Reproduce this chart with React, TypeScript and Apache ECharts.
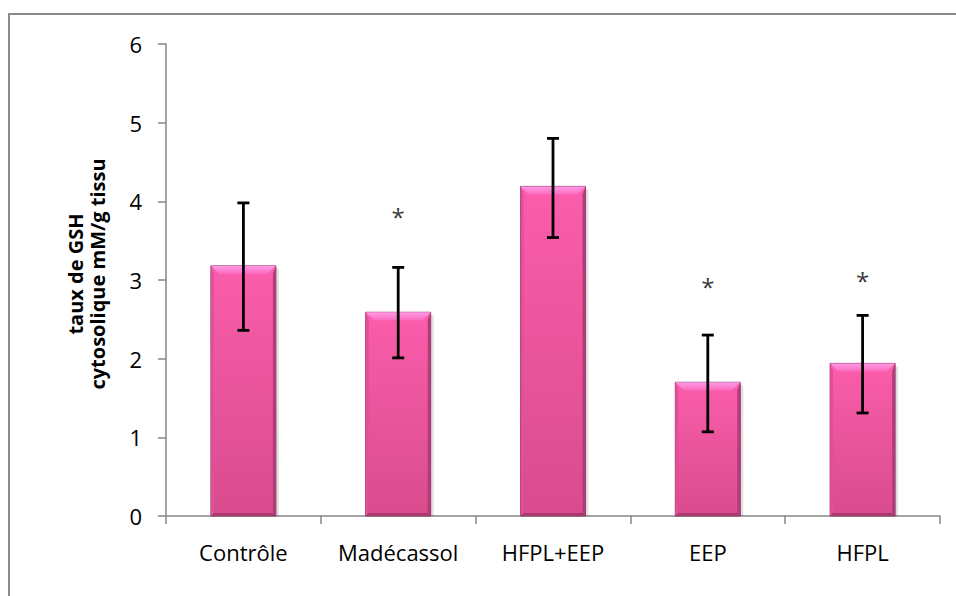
import React, { useEffect, useRef } from "react";
import * as echarts from "echarts";

// Groupes expérimentaux et taux de GSH cytosolique (mM/g tissu)
const categories = ["Contrôle", "Madécassol", "HFPL+EEP", "EEP", "HFPL"];
const means = [3.18, 2.59, 4.19, 1.7, 1.94];
const errLow = [2.36, 2.01, 3.54, 1.07, 1.31];
const errHigh = [3.98, 3.16, 4.8, 2.3, 2.55];
// Niveau où est posé l'astérisque de significativité (null = aucun)
const starLevels: (number | null)[] = [null, 3.81, null, 2.92, 2.99];
const yTicks = [0, 1, 2, 3, 4, 5, 6];

const FONT = "'Open Sans', 'Noto Sans', sans-serif";

export default function App() {
  const ref = useRef<HTMLDivElement>(null);

  useEffect(() => {
    if (!ref.current) return;
    const chart = echarts.init(ref.current, undefined, { renderer: "svg" });

    const barWidth = 65;

    const option: echarts.EChartsOption = {
      animation: false,
      backgroundColor: "#ffffff",
      grid: { left: 166, top: 44, right: 16, bottom: 80 },
      graphic: [
        {
          type: "rect",
          shape: { x: 9, y: 14, width: 980, height: 620 },
          style: { fill: "none", stroke: "#8c8c8c", lineWidth: 2 },
          silent: true,
          z: 100,
        },
        {
          type: "text",
          x: 86,
          y: 274,
          rotation: Math.PI / 2,
          style: {
            text: "taux de GSH\ncytosolique mM/g tissu",
            fontSize: 20,
            fontWeight: "bold",
            fontFamily: FONT,
            fill: "#000",
            align: "center",
            verticalAlign: "middle",
            lineHeight: 22,
          },
        },
      ],
      xAxis: {
        type: "category",
        data: categories,
        axisLine: { lineStyle: { color: "#868686", width: 1.5 } },
        axisTick: { show: true, length: 8, alignWithLabel: false, lineStyle: { color: "#868686", width: 1.5 } },
        axisLabel: {
          color: "#000",
          fontSize: 22,
          fontFamily: FONT,
          margin: 25,
          interval: 0,
          hideOverlap: false,
        },
      },
      yAxis: {
        type: "value",
        min: yTicks[0],
        max: yTicks[yTicks.length - 1],
        interval: 1,
        axisLine: { show: true, lineStyle: { color: "#868686", width: 1.5 } },
        axisTick: { show: true, length: 8, lineStyle: { color: "#868686", width: 1.5 } },
        splitLine: { show: false },
        axisLabel: { color: "#000", fontSize: 22, fontFamily: FONT, margin: 24 },
      },
      series: [
        {
          type: "custom",
          name: "bars",
          data: means.map((v, i) => [i, v]),
          renderItem: (params: any, api: any) => {
            const i = api.value(0);
            const v = api.value(1);
            const top = api.coord([i, v]);
            const base = api.coord([i, 0]);
            const x = top[0] - barWidth / 2;
            const y = top[1];
            const h = base[1] - top[1];
            const bev = 8;
            return {
              type: "group",
              children: [
                // ombre portée
                {
                  type: "rect",
                  shape: { x: x + 3, y: y + 3, width: barWidth, height: h - 3 },
                  style: { fill: "rgba(0,0,0,0.12)" },
                },
                {
                  type: "rect",
                  shape: { x, y, width: barWidth, height: h },
                  style: {
                    fill: new echarts.graphic.LinearGradient(0, 0, 0, 1, [
                      { offset: 0, color: "#fb5dab" },
                      { offset: 1, color: "#d84c8d" },
                    ]),
                    stroke: "#7a2050",
                    lineWidth: 0.8,
                  },
                },
                // biseau supérieur clair
                {
                  type: "polygon",
                  shape: {
                    points: [
                      [x, y],
                      [x + barWidth, y],
                      [x + barWidth - bev, y + bev],
                      [x + bev, y + bev],
                    ],
                  },
                  style: {
                    fill: new echarts.graphic.LinearGradient(0, 0, 0, 1, [
                      { offset: 0, color: "#ff9be6" },
                      { offset: 1, color: "#fc6cc0" },
                    ]),
                  },
                },
                // biseau droit sombre
                {
                  type: "polygon",
                  shape: {
                    points: [
                      [x + barWidth, y],
                      [x + barWidth, y + h],
                      [x + barWidth - 3, y + h - 3],
                      [x + barWidth - 3, y + bev],
                    ],
                  },
                  style: { fill: "#b23c78" },
                },
                // biseau gauche
                {
                  type: "polygon",
                  shape: {
                    points: [
                      [x, y],
                      [x + 3, y + bev],
                      [x + 3, y + h - 3],
                      [x, y + h],
                    ],
                  },
                  style: { fill: "#e0509a" },
                },
                // biseau inférieur sombre
                {
                  type: "polygon",
                  shape: {
                    points: [
                      [x, y + h],
                      [x + barWidth, y + h],
                      [x + barWidth - 3, y + h - 3],
                      [x + 3, y + h - 3],
                    ],
                  },
                  style: { fill: "#a83a70" },
                },
              ],
            };
          },
          z: 2,
        },
        {
          type: "custom",
          name: "erreurs",
          data: means.map((_, i) => [i, errLow[i], errHigh[i]]),
          renderItem: (params: any, api: any) => {
            const i = api.value(0);
            const lo = api.coord([i, api.value(1)]);
            const hi = api.coord([i, api.value(2)]);
            const cap = 6;
            const st = { stroke: "#000", lineWidth: 2.8 };
            return {
              type: "group",
              children: [
                { type: "line", shape: { x1: lo[0], y1: lo[1], x2: hi[0], y2: hi[1] }, style: st },
                { type: "line", shape: { x1: lo[0] - cap, y1: lo[1], x2: lo[0] + cap, y2: lo[1] }, style: st },
                { type: "line", shape: { x1: hi[0] - cap, y1: hi[1], x2: hi[0] + cap, y2: hi[1] }, style: st },
              ],
            };
          },
          z: 5,
        },
        {
          type: "scatter",
          name: "signif",
          symbolSize: 0,
          data: starLevels.map((v, i) => (v == null ? [i, null] : [i, v])),
          label: {
            show: true,
            position: "inside",
            formatter: "*",
            color: "#000",
            fontSize: 24,
            fontFamily: FONT,
          },
          z: 6,
        },
      ],
    };

    chart.setOption(option);
    return () => chart.dispose();
  }, []);

  return <div ref={ref} style={{ width: 956, height: 596, position: "absolute", left: 0, top: 0 }} />;
}
